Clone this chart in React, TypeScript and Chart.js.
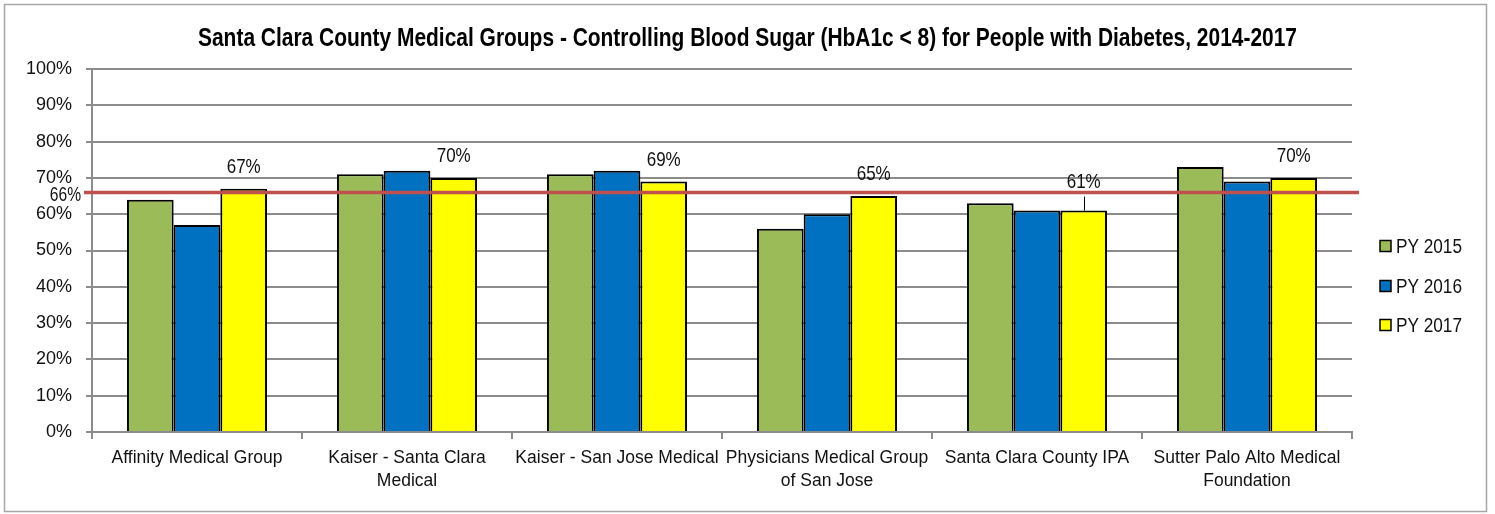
import React, { useEffect, useRef } from 'react';
import { Chart, registerables } from 'chart.js';

Chart.register(...registerables);

const TITLE =
  'Santa Clara County Medical Groups - Controlling Blood Sugar (HbA1c < 8) for People with Diabetes, 2014-2017';

const categories: string[][] = [
  ['Affinity Medical Group'],
  ['Kaiser - Santa Clara', 'Medical'],
  ['Kaiser - San Jose Medical'],
  ['Physicians Medical Group', 'of San Jose'],
  ['Santa Clara County IPA'],
  ['Sutter Palo Alto Medical', 'Foundation'],
];

const seriesNames = ['PY 2015', 'PY 2016', 'PY 2017'];
const py2015 = [64, 71, 71, 56, 63, 73];
const py2016 = [57, 72, 72, 60, 61, 69];
const py2017 = [67, 70, 69, 65, 61, 70];
const benchmark = 66;
const yMin = 0;
const yMax = 100;
const yStep = 10;

const COLORS = ['#9bbb59', '#0070c0', '#ffff00'];
const LABELLED_SERIES = 2;
const LIFTED_LABEL_INDEX = 4;
const FONT = '"Liberation Sans", Arial, sans-serif';
const GRID = '#8c8c8c';

// draw text horizontally condensed (the original uses a narrow face)
function narrowText(ctx: any, text: string, x: number, y: number, sx: number) {
  ctx.save();
  ctx.translate(x, y);
  ctx.scale(sx, 1);
  ctx.fillText(text, 0, 0);
  ctx.restore();
}

const decorPlugin = {
  id: 'decor',
  beforeDraw(chart: any) {
    const ctx = chart.ctx;
    ctx.save();
    ctx.fillStyle = '#ffffff';
    ctx.fillRect(0, 0, chart.width, chart.height);
    ctx.strokeStyle = '#a6a6a6';
    ctx.lineWidth = 1.5;
    ctx.strokeRect(4.5, 4.5, 1482, 507);
    ctx.restore();
  },
  afterDraw(chart: any) {
    const ctx = chart.ctx;
    const area = chart.chartArea;
    const y = chart.scales.y;
    ctx.save();

    // title
    ctx.font = 'bold 26px ' + FONT;
    ctx.fillStyle = '#000';
    ctx.textAlign = 'center';
    ctx.textBaseline = 'alphabetic';
    const w = ctx.measureText(TITLE).width;
    narrowText(ctx, TITLE, 747.5, 46, 1099 / w);

    // benchmark line
    const by = y.getPixelForValue(benchmark);
    ctx.strokeStyle = '#c0504d';
    ctx.lineWidth = 3.5;
    ctx.beginPath();
    ctx.moveTo(area.left - 8, by);
    ctx.lineTo(area.right + 7, by);
    ctx.stroke();
    ctx.font = '20px ' + FONT;
    ctx.fillStyle = '#111';
    ctx.textAlign = 'right';
    ctx.textBaseline = 'alphabetic';
    narrowText(ctx, benchmark + '%', area.left - 11, by + 9, 0.78);

    // data labels for PY 2017
    const meta = chart.getDatasetMeta(LABELLED_SERIES);
    const vals = chart.data.datasets[LABELLED_SERIES].data;
    ctx.font = '21px ' + FONT;
    ctx.textAlign = 'center';
    ctx.textBaseline = 'alphabetic';
    meta.data.forEach((bar: any, i: number) => {
      const lifted = i === LIFTED_LABEL_INDEX;
      const base = bar.y - (lifted ? 22.5 : 16);
      ctx.fillStyle = '#111';
      narrowText(ctx, vals[i] + '%', bar.x, base, 0.81);
      if (lifted) {
        ctx.strokeStyle = '#000';
        ctx.lineWidth = 1;
        ctx.beginPath();
        ctx.moveTo(Math.round(bar.x) + 0.5, bar.y);
        ctx.lineTo(Math.round(bar.x) + 0.5, bar.y - 14);
        ctx.stroke();
      }
    });

    // legend
    const legendYs = [246, 286, 325];
    ctx.font = '20px ' + FONT;
    ctx.textAlign = 'left';
    ctx.textBaseline = 'alphabetic';
    chart.data.datasets.forEach((ds: any, i: number) => {
      const cy = legendYs[i];
      ctx.fillStyle = ds.backgroundColor;
      ctx.fillRect(1380, cy - 5.5, 11, 11);
      ctx.strokeStyle = '#000';
      ctx.lineWidth = 1.5;
      ctx.strokeRect(1380, cy - 5.5, 11, 11);
      ctx.fillStyle = '#111';
      narrowText(ctx, ds.label, 1396, cy + 7, 0.86);
    });

    ctx.restore();
  },
};

export default function App() {
  const ref = useRef<HTMLCanvasElement | null>(null);

  useEffect(() => {
    if (!ref.current) return;
    const series = [py2015, py2016, py2017];
    const chart = new Chart(ref.current, {
      type: 'bar',
      data: {
        labels: categories,
        datasets: series.map((d, i) => ({
          label: seriesNames[i],
          data: d,
          backgroundColor: COLORS[i],
          borderColor: '#000',
          borderWidth: 2,
          borderSkipped: 'bottom',
          categoryPercentage: 0.667,
          barPercentage: 1,
        })),
      },
      options: {
        responsive: false,
        animation: false,
        devicePixelRatio: 1,
        layout: { padding: { left: 0, top: 69, right: 143, bottom: 0 } },
        plugins: {
          legend: { display: false },
          title: { display: false },
          tooltip: { enabled: false },
        },
        scales: {
          x: {
            offset: true,
            grid: {
              offset: true,
              drawOnChartArea: false,
              drawTicks: true,
              tickLength: 7,
              color: GRID,
              lineWidth: 2,
            },
            border: { color: GRID, width: 2 },
            ticks: {
              autoSkip: false,
              maxRotation: 0,
              minRotation: 0,
              padding: 7,
              color: '#111',
              font: { family: FONT, size: 17.5, lineHeight: 1.34 },
            },
            afterFit(scale: any) {
              scale.height = 82;
            },
          },
          y: {
            min: yMin,
            max: yMax,
            ticks: {
              stepSize: yStep,
              padding: 14,
              color: '#111',
              font: { family: FONT, size: 18 },
              callback: (v: any) => v + '%',
            },
            grid: {
              color: GRID,
              lineWidth: 2,
              tickLength: 6,
              drawTicks: true,
            },
            border: { color: GRID, width: 2 },
            afterFit(scale: any) {
              scale.width = 92;
            },
          },
        },
      },
      plugins: [decorPlugin],
    });
    return () => chart.destroy();
  }, []);

  return (
    <div style={{ position: 'fixed', left: 0, top: 0, width: 1495, height: 514, background: '#fff' }}>
      <canvas ref={ref} width={1495} height={514} style={{ display: 'block', width: 1495, height: 514 }} />
    </div>
  );
}
